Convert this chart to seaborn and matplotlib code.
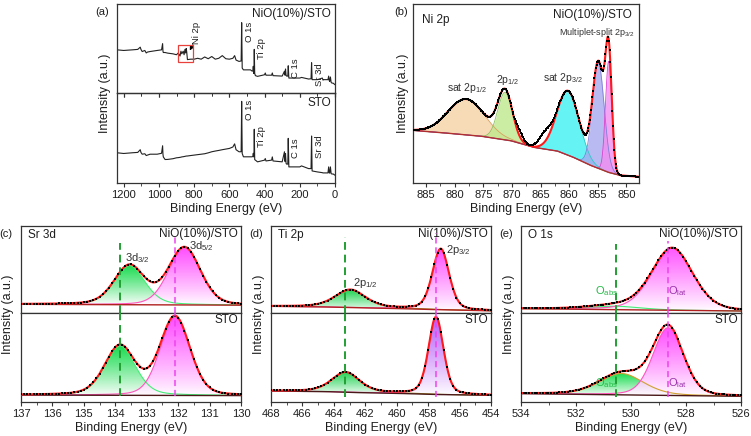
import numpy as np
import matplotlib
matplotlib.use("Agg")
import matplotlib.pyplot as plt
from matplotlib.colors import to_rgb
from matplotlib.ticker import MultipleLocator
import seaborn as sns

# ---------------- (a) survey spectra: knots
survey_e = [1238, 1200, 1150, 1120, 1106, 1102, 1095, 1080, 1072, 1065, 1050, 1010, 985, 979, 977, 975,
            965, 950, 920, 900, 890, 880, 875, 870, 862, 857, 852, 848, 845, 842, 838, 820, 800, 780,
            760, 740, 720, 700, 680, 660, 640, 620, 600, 580, 570, 562, 545, 533, 530, 527, 520, 480,
            470, 466, 464, 462, 460, 458.5, 456, 452, 440, 400, 396, 392, 360, 356, 352, 300, 287, 284,
            281, 278, 275, 268, 265.5, 262, 200, 190, 150, 136, 133, 130, 100, 72, 68, 64, 40, 36, 33,
            30, 26, 22, 18, 10, 0]
survey_nio = [0.485, 0.478, 0.485, 0.49, 0.515, 0.49, 0.466, 0.478, 0.45, 0.46, 0.466, 0.478, 0.485,
              0.555, 0.47, 0.455, 0.455, 0.448, 0.44, 0.43, 0.45, 0.415, 0.47, 0.44, 0.47, 0.43, 0.49,
              0.45, 0.50, 0.46, 0.375, 0.38, 0.38, 0.39, 0.38, 0.405, 0.385, 0.41, 0.38, 0.39, 0.42,
              0.385, 0.38, 0.39, 0.42, 0.37, 0.355, 0.36, 0.79, 0.28, 0.26, 0.26, 0.245, 0.25, 0.30,
              0.22, 0.26, 0.49, 0.22, 0.195, 0.187, 0.205, 0.225, 0.2, 0.2, 0.225, 0.195, 0.19, 0.245,
              0.2, 0.27, 0.2, 0.19, 0.19, 0.306, 0.168, 0.168, 0.175, 0.157, 0.16, 0.34, 0.15, 0.15,
              0.168, 0.145, 0.15, 0.15, 0.19, 0.14, 0.13, 0.18, 0.12, 0.112, 0.11, 0.093]
survey_sto = [0.336, 0.328, 0.336, 0.34, 0.37, 0.34, 0.32, 0.325, 0.305, 0.31, 0.32, 0.32, 0.33,
              0.414, 0.32, 0.29, 0.261, 0.262, 0.27, 0.28, 0.282, 0.285, 0.287, 0.29, 0.292, 0.294,
              0.296, 0.298, 0.299, 0.30, 0.30, 0.305, 0.31, 0.315, 0.32, 0.325, 0.335, 0.347, 0.355,
              0.362, 0.37, 0.377, 0.384, 0.40, 0.435, 0.37, 0.347, 0.347, 0.907, 0.328, 0.291, 0.291,
              0.291, 0.30, 0.33, 0.29, 0.33, 0.597, 0.26, 0.254, 0.235, 0.254, 0.272, 0.245, 0.254,
              0.29, 0.245, 0.235, 0.347, 0.24, 0.328, 0.22, 0.21, 0.21, 0.496, 0.179, 0.179, 0.19,
              0.16, 0.16, 0.522, 0.134, 0.123, 0.115, 0.112, 0.112, 0.112, 0.179, 0.112, 0.11, 0.179,
              0.105, 0.1, 0.1, 0.086]
survey_tags = ["O 1s", "Ti 2p", "C 1s", "Sr 3d"]
survey_tag_e = [488, 417, 226, 87]
survey_tag_nio = [0.80, 0.616, 0.39, 0.336]
survey_tag_sto = [0.925, 0.627, 0.496, 0.534]

# ---------------- (b) Ni 2p fit: centre, height, fwhm (eV)
ni_bg_e = [887.3, 880, 875, 870, 866, 862, 859, 856, 853, 851, 847.8]
ni_bg = [0.294, 0.275, 0.26, 0.235, 0.198, 0.178, 0.14, 0.095, 0.058, 0.042, 0.035]
ni_center = [878.0, 871.2, 860.2, 854.9, 853.1]
ni_height = [0.20, 0.265, 0.36, 0.59, 0.62]
ni_fwhm = [7.5, 3.0, 4.6, 2.4, 1.3]
ni_colors = ["#f6d3a4", "#bfe98c", "#3ff0f0", "#a9a9ef", "#f28ef0"]
ni_edges = ["#d9a060", "#8cc060", "#30c8c8", "#8080d8", "#e040d0"]
ni_extra_center = [864.3, 868.6]   # shoulders seen in the measured points only
ni_extra_height = [0.06, 0.035]
ni_extra_fwhm = [2.5, 1.5]

# ---------------- (c) Sr 3d, (d) Ti 2p, (e) O 1s: [NiO(10%)/STO, STO]
sr_bg = [[0.10, 0.09], [0.078, 0.072]]
sr_center = [[133.55, 131.8], [133.85, 132.1]]
sr_height = [[0.45, 0.655], [0.555, 0.88]]
sr_fwhm = [[1.15, 1.2], [1.15, 1.12]]
sr_eta = [[0.3, 0.2], [0.3, 0.2]]

ti_bg_e = [468, 464, 462, 459, 457, 454]
ti_bg = [[0.077, 0.068, 0.058, 0.047, 0.036, 0.025], [0.124, 0.115, 0.103, 0.093, 0.082, 0.075]]
ti_center = [[462.95, 457.2], [463.25, 457.5]]
ti_height = [[0.205, 0.70], [0.225, 0.87]]
ti_fwhm = [[2.3, 1.25], [2.1, 1.12]]
ti_eta = [[0.45, 0.3], [0.45, 0.3]]

o_bg = [[0.05, 0.023], [0.094, 0.064]]
o_center = [[530.6, 528.5], [530.35, 528.65]]
o_height = [[0.04, 0.715], [0.24, 0.76]]
o_fwhm = [[2.2, 1.75], [1.9, 1.3]]
o_eta = [[0.3, 0.25], [0.3, 0.2]]

W, H = 751, 436
INK = "#1e1e1e"


def pv(x, c, h, w, eta=0.0):
    g = np.exp(-4 * np.log(2) * ((x - c) / w) ** 2)
    lo = 1.0 / (1.0 + 4 * ((x - c) / w) ** 2)
    return h * ((1 - eta) * g + eta * lo)


def box(x0, y0, x1, y1):
    return [x0 / W, 1 - y1 / H, (x1 - x0) / W, (y1 - y0) / H]


def style_axis(ax, xlim, major, minor, labels=True):
    ax.set_xlim(*xlim)
    ax.set_ylim(0, 1)
    ax.set_yticks([])
    ax.set_xlabel("")
    ax.set_ylabel("")
    ax.xaxis.set_major_locator(MultipleLocator(major))
    ax.xaxis.set_minor_locator(MultipleLocator(minor))
    ax.tick_params(axis="x", which="major", direction="out", length=3, width=0.8,
                   labelsize=8, pad=2, colors="#333333", labelcolor=INK, labelbottom=labels)
    ax.tick_params(axis="x", which="minor", direction="out", length=1.8, width=0.6, colors="#333333")
    for s in ax.spines.values():
        s.set_linewidth(0.9)
        s.set_color("#333333")


def gradient_fill(ax, x, lo, hi, color, alpha=0.9):
    poly = ax.fill_between(x, lo, hi, facecolor="none", edgecolor="none")
    rgb = np.array(to_rgb(color))
    t = np.linspace(0, 1, 256) ** 0.9
    grad = np.ones((256, 1, 4))
    grad[:, 0, :3] = 1 - t[:, None] * (1 - rgb[None, :])
    grad[:, 0, 3] = alpha
    im = ax.imshow(grad, aspect="auto", origin="lower", interpolation="bilinear",
                   extent=[x.min(), x.max(), lo.min(), hi.max()], zorder=1)
    im.set_clip_path(poly.get_paths()[0], transform=ax.transData)


def fit_panel(ax, xlim, step, bg, centers, heights, fwhms, etas, fills, edges, bg_color):
    x = np.arange(xlim[1], xlim[0] + step / 2, step / 4)
    comps = [pv(x, c, h, w, e) for c, h, w, e in zip(centers, heights, fwhms, etas)]
    for comp, fc, ec in zip(comps, fills, edges):
        gradient_fill(ax, x, bg(x), bg(x) + comp, fc)
        ax.plot(x, bg(x) + comp, color=ec, lw=0.8, zorder=2)
    ax.plot(x, bg(x), color=bg_color, lw=1.0, zorder=2)
    env = bg(x) + np.sum(comps, axis=0)
    sns.lineplot(x=x, y=env, ax=ax, color="#ff1a1a", lw=1.5, zorder=3, estimator=None, sort=False)
    xd = np.arange(xlim[1], xlim[0] + step / 2, step)
    yd = bg(xd) + np.sum([pv(xd, c, h, w, e) for c, h, w, e in zip(centers, heights, fwhms, etas)], axis=0)
    ax.plot(xd, yd, "s", ms=1.5, color="black", mew=0, zorder=4)


sns.set_style("ticks")
plt.rcParams["font.family"] = ["Liberation Sans", "DejaVu Sans"]
plt.rcParams["mathtext.fontset"] = "custom"
plt.rcParams["mathtext.rm"] = "Liberation Sans"
plt.rcParams["mathtext.it"] = "Liberation Sans:italic"

fig = plt.figure(figsize=(W / 100, H / 100), dpi=100)


def ftext(x, y, s, **kw):
    kw.setdefault("color", INK)
    fig.text(x / W, 1 - y / H, s, **kw)


# ---------------- panel (a)
ax_a2 = fig.add_axes(box(117, 93, 335, 183))
ax_a1 = fig.add_axes(box(117, 4, 335, 93))
ax_a1.patch.set_visible(False)
sns.lineplot(x=survey_e, y=survey_nio, ax=ax_a1, color="#222222", lw=0.8, estimator=None, sort=False)
sns.lineplot(x=survey_e, y=survey_sto, ax=ax_a2, color="#222222", lw=0.8, estimator=None, sort=False)
for ax, ys in [(ax_a1, survey_tag_nio), (ax_a2, survey_tag_sto)]:
    for tag, e, y in zip(survey_tags, survey_tag_e, ys):
        ax.text(e, y, tag, rotation=90, ha="center", va="top", fontsize=6.8, color=INK)
ax_a1.add_patch(plt.Rectangle((894, 0.347), -90, 0.187, fill=False, ec="#e8403a", lw=0.9, zorder=5))
ax_a1.annotate("", xy=(832, 0.45), xytext=(800, 0.57),
               arrowprops=dict(arrowstyle="-|>", color="black", lw=0.8, mutation_scale=6))
ax_a1.text(785, 0.80, "Ni 2p", rotation=90, ha="center", va="top", fontsize=6.8, color=INK)
ax_a1.text(0.98, 0.95, "NiO(10%)/STO", transform=ax_a1.transAxes, ha="right", va="top", fontsize=8.5, color=INK)
ax_a2.text(0.98, 0.95, "STO", transform=ax_a2.transAxes, ha="right", va="top", fontsize=8.5, color=INK)
style_axis(ax_a1, (1238, 0), 200, 100, labels=False)
style_axis(ax_a2, (1238, 0), 200, 100)
# ticks along the divider, pointing down into the lower half
sec = ax_a2.secondary_xaxis("top")
sec.xaxis.set_major_locator(MultipleLocator(200))
sec.xaxis.set_minor_locator(MultipleLocator(100))
sec.tick_params(axis="x", which="major", direction="in", length=3, width=0.8, labeltop=False, colors="#333333")
sec.tick_params(axis="x", which="minor", direction="in", length=1.8, width=0.6, colors="#333333")
sec.spines["top"].set_visible(False)

# ---------------- panel (b)
ax_b = fig.add_axes(box(413, 4, 639, 183))
xb = np.arange(847.8, 887.35, 0.05)
bgb = np.interp(xb, ni_bg_e[::-1], ni_bg[::-1])
comps_b = [pv(xb, c, h, w) for c, h, w in zip(ni_center, ni_height, ni_fwhm)]
for comp, fc, ec in zip(comps_b, ni_colors, ni_edges):
    ax_b.fill_between(xb, bgb, bgb + comp, color=fc, alpha=0.8, lw=0, zorder=1)
    ax_b.plot(xb, bgb + comp, color=ec, lw=0.6, zorder=2)
env_b = bgb + np.sum(comps_b, axis=0)
ax_b.plot(xb, bgb, color="#b03030", lw=1.0, zorder=2)
sns.lineplot(x=xb, y=env_b, ax=ax_b, color="#ff1a1a", lw=1.5, zorder=3, estimator=None, sort=False)
xbd = np.arange(847.9, 887.3, 0.12)
ybd = np.interp(xbd, ni_bg_e[::-1], ni_bg[::-1]) + np.sum(
    [pv(xbd, c, h, w) for c, h, w in zip(ni_center + ni_extra_center, ni_height + ni_extra_height,
                                          ni_fwhm + ni_extra_fwhm)], axis=0)
ax_b.plot(xbd, ybd, "s", ms=1.8, color="black", mew=0, zorder=4)
style_axis(ax_b, (887.3, 847.8), 5, 2.5)
ax_b.text(877.9, 0.53, "sat 2p$_{\\mathrm{1/2}}$", ha="center", va="center", fontsize=7.5, color="#333333")
ax_b.text(870.8, 0.575, "2p$_{\\mathrm{1/2}}$", ha="center", va="center", fontsize=7.5, color="#333333")
ax_b.text(861.1, 0.585, "sat 2p$_{\\mathrm{3/2}}$", ha="center", va="center", fontsize=7.5, color="#333333")
ax_b.text(855.2, 0.84, "Multiplet-split 2p$_{\\mathrm{3/2}}$", ha="center", va="center", fontsize=6.5,
          color="#333333")
ax_b.text(0.04, 0.91, "Ni 2p", transform=ax_b.transAxes, ha="left", va="center", fontsize=8.5, color=INK)
ax_b.text(0.97, 0.94, "NiO(10%)/STO", transform=ax_b.transAxes, ha="right", va="center", fontsize=8.5,
          color=INK)

# ---------------- panels (c), (d), (e)
lower_x = [21, 271, 521]
panels = [
    ("Sr 3d", (137, 130), 1, 0.5, 0.1, "NiO(10%)/STO",
     [lambda x, b=b: np.interp(x, [130, 137], [b[1], b[0]]) for b in sr_bg],
     sr_center, sr_height, sr_fwhm, sr_eta,
     [["#00d83c", "#ff38ff"], ["#00d83c", "#ff38ff"]],
     [["#44ee77", "#ff55bb"], ["#44ee77", "#ff55bb"]],
     [133.85, 132.1], [(0.81, 0.9), (0.067, 0.067)]),
    ("Ti 2p", (468, 454), 2, 1, 0.2, "Ni(10%)/STO",
     [lambda x, b=b: np.interp(x, ti_bg_e[::-1], b[::-1]) for b in ti_bg],
     ti_center, ti_height, ti_fwhm, ti_eta,
     [["#00cc3a", "#ff3cff"], ["#00cc3a", "#b048f8"]],
     [["#a08a20", "#ff55bb"], ["#a08a20", "#ff55bb"]],
     [463.3, 457.5], [(0.87, 0.915), (0.06, 0.06)]),
    ("O 1s", (534, 526), 2, 1, 0.1, "NiO(10%)/STO",
     [lambda x, b=b: np.interp(x, [526, 534], [b[1], b[0]]) for b in o_bg],
     o_center, o_height, o_fwhm, o_eta,
     [["#30e070", "#ff44ff"], ["#00d83c", "#ff38ff"]],
     [["#44ee77", "#ff55bb"], ["#d0a030", "#ff55bb"]],
     [530.55, 528.65], [(0.79, 0.83), (0.06, 0.06)]),
]
letters = ["(c)", "(d)", "(e)"]
for k, (name, xlim, major, minor, step, tag, bgs, cen, hei, fw, et, fills, edges, dash_e, dash_y) in enumerate(panels):
    x0 = lower_x[k]
    ax_t = fig.add_axes(box(x0, 226, x0 + 220, 313))
    ax_l = fig.add_axes(box(x0, 313, x0 + 220, 402))
    for j, ax in enumerate([ax_t, ax_l]):
        fit_panel(ax, xlim, step, bgs[j], cen[j], hei[j], fw[j], et[j], fills[j], edges[j],
                  "#b02020" if j == 0 else "#4a1818")
    # dashed guide lines run through both halves
    ax_t.axvline(dash_e[0], ymin=0, ymax=dash_y[0][0], color="#22a033", lw=1.4, ls=(0, (4, 2.5)), zorder=5)
    ax_l.axvline(dash_e[0], ymin=dash_y[1][0], ymax=1, color="#22a033", lw=1.4, ls=(0, (4, 2.5)), zorder=5)
    ax_t.axvline(dash_e[1], ymin=0, ymax=dash_y[0][1], color="#ee44ee", lw=1.1, ls=(0, (4, 2.5)), zorder=5)
    ax_l.axvline(dash_e[1], ymin=dash_y[1][1], ymax=1, color="#ee44ee", lw=1.1, ls=(0, (4, 2.5)), zorder=5)
    style_axis(ax_t, xlim, major, minor, labels=False)
    ax_t.tick_params(axis="x", which="both", length=0)
    style_axis(ax_l, xlim, major, minor)
    ax_t.text(0.03, 0.9, name, transform=ax_t.transAxes, ha="left", va="center", fontsize=8.5, color=INK)
    ax_t.text(0.985, 0.91, tag, transform=ax_t.transAxes, ha="right", va="center", fontsize=8.5, color=INK)
    ax_l.text(0.985, 0.92, "STO", transform=ax_l.transAxes, ha="right", va="center", fontsize=8.5, color=INK)
    ftext(x0 - 15, 234, letters[k], ha="center", va="center", fontsize=8)
    ftext(x0 - 12 if k else 8, 314, "Intensity (a.u.)", rotation=90, ha="center", va="center", fontsize=9)
    ftext(x0 + 110, 428, "Binding Energy (eV)", ha="center", va="center", fontsize=9)
    if k == 0:
        ax_t.text(133.3, 0.63, "3d$_{\\mathrm{3/2}}$", ha="center", va="center", fontsize=8, color="#333333")
        ax_t.text(131.25, 0.77, "3d$_{\\mathrm{5/2}}$", ha="center", va="center", fontsize=8, color="#333333")
    elif k == 1:
        ax_t.text(461.98, 0.35, "2p$_{\\mathrm{1/2}}$", ha="center", va="center", fontsize=8, color="#333333")
        ax_t.text(456.1, 0.72, "2p$_{\\mathrm{3/2}}$", ha="center", va="center", fontsize=8, color="#333333")
    else:
        for ax, y in [(ax_t, 0.25), (ax_l, 0.21)]:
            ax.text(530.9, y, "O$_{\\mathrm{abs}}$", ha="center", va="center", fontsize=8, color="#22bb44", zorder=6)
            ax.text(528.3, y, "O$_{\\mathrm{lat}}$", ha="center", va="center", fontsize=8, color="#9933aa", zorder=6)

# ---------------- figure-level labels
ftext(102, 12, "(a)", ha="center", va="center", fontsize=8)
ftext(401, 12, "(b)", ha="center", va="center", fontsize=8)
ftext(105, 93, "Intensity (a.u.)", rotation=90, ha="center", va="center", fontsize=9)
ftext(403, 93, "Intensity (a.u.)", rotation=90, ha="center", va="center", fontsize=9)
ftext(226, 209, "Binding Energy (eV)", ha="center", va="center", fontsize=9)
ftext(526, 209, "Binding Energy (eV)", ha="center", va="center", fontsize=9)

fig.savefig("out.png", dpi=100)
